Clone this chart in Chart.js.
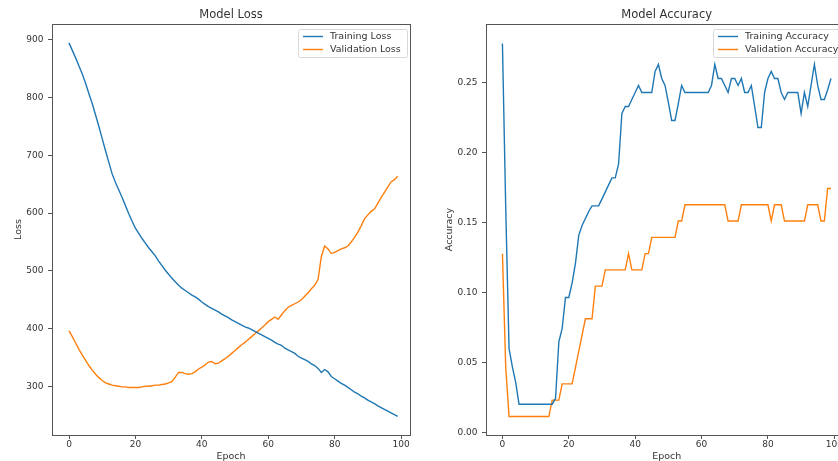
<!DOCTYPE html>
<html>
<head>
<meta charset="utf-8">
<script src="https://cdn.jsdelivr.net/npm/chart.js@4.4.1/dist/chart.umd.min.js"></script>
<style>
  html, body { margin: 0; padding: 0; background: #fff; overflow: hidden; }
  body { width: 838px; height: 461px; position: relative; }
  #lossChart { position: absolute; left: 0; top: 0; }
  #accChart { position: absolute; left: 420px; top: 0; }
</style>
</head>
<body>
<canvas id="lossChart" width="420" height="461"></canvas>
<canvas id="accChart" width="460" height="461"></canvas>
<script>
// Epochs (x values)
const epochs = [0,1,2,3,4,5,6,7,8,9,10,11,12,13,14,15,16,17,18,19,
  20,21,22,23,24,25,26,27,28,29,30,31,32,33,34,35,36,37,38,39,
  40,41,42,43,44,45,46,47,48,49,50,51,52,53,54,55,56,57,58,59,
  60,61,62,63,64,65,66,67,68,69,70,71,72,73,74,75,76,77,78,79,
  80,81,82,83,84,85,86,87,88,89,90,91,92,93,94,95,96,97,98,99];

// Loss values
const trainLoss = [895,882,869,855,841,825,807,790,770,750,
  729,708,688,668,653,640,627,613,599,586,
  574,565,556,548,540,533,526,517,509,501,
  494,487,481,475,470,466,462,458,455,451,
  446,442,438,435,432,429,425,422,419,415,
  412,409,406,403,401,398,395,392,389,386,
  383,380,376,373,371,366,363,360,357,352,
  349,346,343,339,336,331,324,329,325,317,
  313,309,305,302,298,294,290,287,283,280,
  276,273,270,266,263,260,257,254,251,248];
const valLoss = [396,386,375,364,354,345,336,328,321,315,
  310,306,304,302,301,300,299,299,298,298,
  298,298,299,300,300,301,302,302,303,304,
  306,308,316,324,324,322,321,322,325,330,
  333,337,342,343,339,340,344,348,352,357,
  362,367,372,376,381,386,391,396,401,406,
  412,416,420,416,424,431,437,440,443,446,
  450,456,462,469,475,485,525,543,538,530,
  532,535,538,540,543,550,558,567,578,590,
  597,603,607,617,627,636,645,654,658,664];

// Accuracy values
const trainAcc = [0.278,0.16,0.060,0.047,0.036,0.0204,0.0204,0.0204,0.0204,0.0204,
  0.0204,0.0204,0.0204,0.0204,0.0204,0.0204,0.0245,0.065,0.0746,0.0966,
  0.0966,0.107,0.121,0.141,0.148,0.153,0.158,0.162,0.162,0.162,
  0.167,0.172,0.177,0.182,0.182,0.192,0.228,0.233,0.233,0.238,
  0.243,0.248,0.243,0.243,0.243,0.243,0.258,0.263,0.253,0.248,
  0.236,0.223,0.223,0.235,0.248,0.243,0.243,0.243,0.243,0.243,
  0.243,0.243,0.243,0.248,0.263,0.253,0.253,0.248,0.243,0.253,
  0.253,0.248,0.253,0.243,0.243,0.248,0.233,0.218,0.218,0.243,
  0.253,0.258,0.253,0.253,0.243,0.238,0.243,0.243,0.243,0.243,
  0.228,0.243,0.233,0.248,0.263,0.248,0.238,0.238,0.245,0.253];
const valAcc = [0.1279,0.0465,0.0116,0.0116,0.0116,0.0116,0.0116,0.0116,0.0116,0.0116,
  0.0116,0.0116,0.0116,0.0116,0.0116,0.0233,0.0233,0.0233,0.0349,0.0349,
  0.0349,0.0349,0.0465,0.0581,0.0698,0.0814,0.0814,0.0814,0.1047,0.1047,
  0.1047,0.1163,0.1163,0.1163,0.1163,0.1163,0.1163,0.1163,0.1279,0.1163,
  0.1163,0.1163,0.1163,0.1279,0.1279,0.1395,0.1395,0.1395,0.1395,0.1395,
  0.1395,0.1395,0.1395,0.1512,0.1512,0.1628,0.1628,0.1628,0.1628,0.1628,
  0.1628,0.1628,0.1628,0.1628,0.1628,0.1628,0.1628,0.1628,0.1512,0.1512,
  0.1512,0.1512,0.1628,0.1628,0.1628,0.1628,0.1628,0.1628,0.1628,0.1628,
  0.1628,0.1512,0.1628,0.1628,0.1628,0.1512,0.1512,0.1512,0.1512,0.1512,
  0.1512,0.1512,0.1628,0.1628,0.1628,0.1628,0.1512,0.1512,0.1744,0.1744];

// Tick values
const epochTicks = [0, 20, 40, 60, 80, 100];
const lossTicks = [300, 400, 500, 600, 700, 800, 900];
const accTicks = [0.00, 0.05, 0.10, 0.15, 0.20, 0.25];

const BLUE = '#1f77b4';
const ORANGE = '#ff7f0e';
const FONT = "'DejaVu Sans', sans-serif";
Chart.defaults.font.family = FONT;

// Box around the plot area (all four spines)
const frame = {
  id: 'frame',
  afterDatasetsDraw(chart) {
    const { ctx, chartArea: a } = chart;
    ctx.save();
    ctx.strokeStyle = '#555';
    ctx.lineWidth = 1;
    ctx.strokeRect(Math.round(a.left) + 0.5, Math.round(a.top) + 0.5,
      Math.round(a.right - a.left), Math.round(a.bottom - a.top));
    ctx.restore();
  }
};

// Legend drawn inside the plot, upper right, with a light frame
const innerLegend = {
  id: 'innerLegend',
  afterDraw(chart) {
    const { ctx, chartArea: a } = chart;
    const ds = chart.data.datasets;
    ctx.save();
    ctx.font = '9.5px ' + FONT;
    const textW = Math.max(...ds.map(d => ctx.measureText(d.label).width));
    const w = Math.round(textW + 38), h = 28;
    const x = Math.round(a.right - 3 - w), y = Math.round(a.top + 5);
    ctx.beginPath();
    ctx.roundRect(x + 0.5, y + 0.5, w, h, 2);
    ctx.fillStyle = 'rgba(255,255,255,0.8)';
    ctx.fill();
    ctx.strokeStyle = '#d8d8d8';
    ctx.lineWidth = 1;
    ctx.stroke();
    ds.forEach((d, i) => {
      const cy = y + 7.5 + i * 13;
      ctx.beginPath();
      ctx.moveTo(x + 5, cy);
      ctx.lineTo(x + 25, cy);
      ctx.strokeStyle = d.borderColor;
      ctx.lineWidth = 1.4;
      ctx.stroke();
      ctx.fillStyle = '#333';
      ctx.textBaseline = 'middle';
      ctx.textAlign = 'left';
      ctx.fillText(d.label, x + 32, cy);
    });
    ctx.restore();
  }
};

function toPoints(ys) {
  return epochs.map((e, i) => ({ x: e, y: ys[i] }));
}

function makeChart(id, o) {
  const ctx = document.getElementById(id).getContext('2d');
  return new Chart(ctx, {
    type: 'line',
    data: {
      datasets: [
        { label: o.labels[0], data: toPoints(o.series[0]), borderColor: BLUE, backgroundColor: BLUE },
        { label: o.labels[1], data: toPoints(o.series[1]), borderColor: ORANGE, backgroundColor: ORANGE }
      ]
    },
    options: {
      responsive: false,
      animation: false,
      layout: { padding: { left: 0, top: 0, right: o.padRight, bottom: 0 } },
      elements: {
        line: { borderWidth: 1.4, tension: 0 },
        point: { radius: 0, hoverRadius: 0 }
      },
      plugins: {
        legend: { display: false },
        tooltip: { enabled: false },
        title: {
          display: true,
          text: o.title,
          fullSize: false,
          color: '#333',
          font: { size: 11.5, weight: 'normal', lineHeight: 1.2 },
          padding: { top: 8, bottom: 2.2 }
        }
      },
      scales: {
        x: {
          type: 'linear',
          min: o.xMin,
          max: o.xMax,
          afterBuildTicks: s => { s.ticks = epochTicks.map(v => ({ value: v })); },
          afterFit: s => { s.height = 26; },
          grid: { drawOnChartArea: false, drawTicks: true, tickLength: 4, tickColor: '#555', color: '#555' },
          border: { display: false },
          ticks: { font: { size: 9 }, color: '#333', padding: 0, maxRotation: 0, autoSkip: false },
          title: { display: true, text: 'Epoch', color: '#333', font: { size: 9.5, lineHeight: 1 }, padding: 0 }
        },
        y: {
          type: 'linear',
          min: o.yMin,
          max: o.yMax,
          afterBuildTicks: s => { s.ticks = o.yTicks.map(v => ({ value: v })); },
          afterFit: s => { s.width = o.yWidth; },
          grid: { drawOnChartArea: false, drawTicks: true, tickLength: 4, tickColor: '#555', color: '#555' },
          border: { display: false },
          ticks: { font: { size: 9 }, color: '#333', padding: 4.5, autoSkip: false, callback: o.yFmt },
          title: { display: true, text: o.yLabel, color: '#333', font: { size: 9.5, lineHeight: 1 }, padding: { top: o.yTitlePad, bottom: 0 } }
        }
      }
    },
    plugins: [frame, innerLegend]
  });
}

makeChart('lossChart', {
  title: 'Model Loss',
  labels: ['Training Loss', 'Validation Loss'],
  series: [trainLoss, valLoss],
  yLabel: 'Loss',
  yTicks: lossTicks,
  yFmt: v => String(v),
  xMin: -5.12, xMax: 102.7,
  yMin: 215.6, yMax: 927.7,
  yWidth: 52, yTitlePad: 13.75,
  padRight: 10
});

makeChart('accChart', {
  title: 'Model Accuracy',
  labels: ['Training Accuracy', 'Validation Accuracy'],
  series: [trainAcc, valAcc],
  yLabel: 'Accuracy',
  yTicks: accTicks,
  yFmt: v => v.toFixed(2),
  xMin: -4.95, xMax: 103.95,
  yMin: -0.0016, yMax: 0.2919,
  yWidth: 66, yTitlePad: 25,
  padRight: 32.6
});
</script>
</body>
</html>
